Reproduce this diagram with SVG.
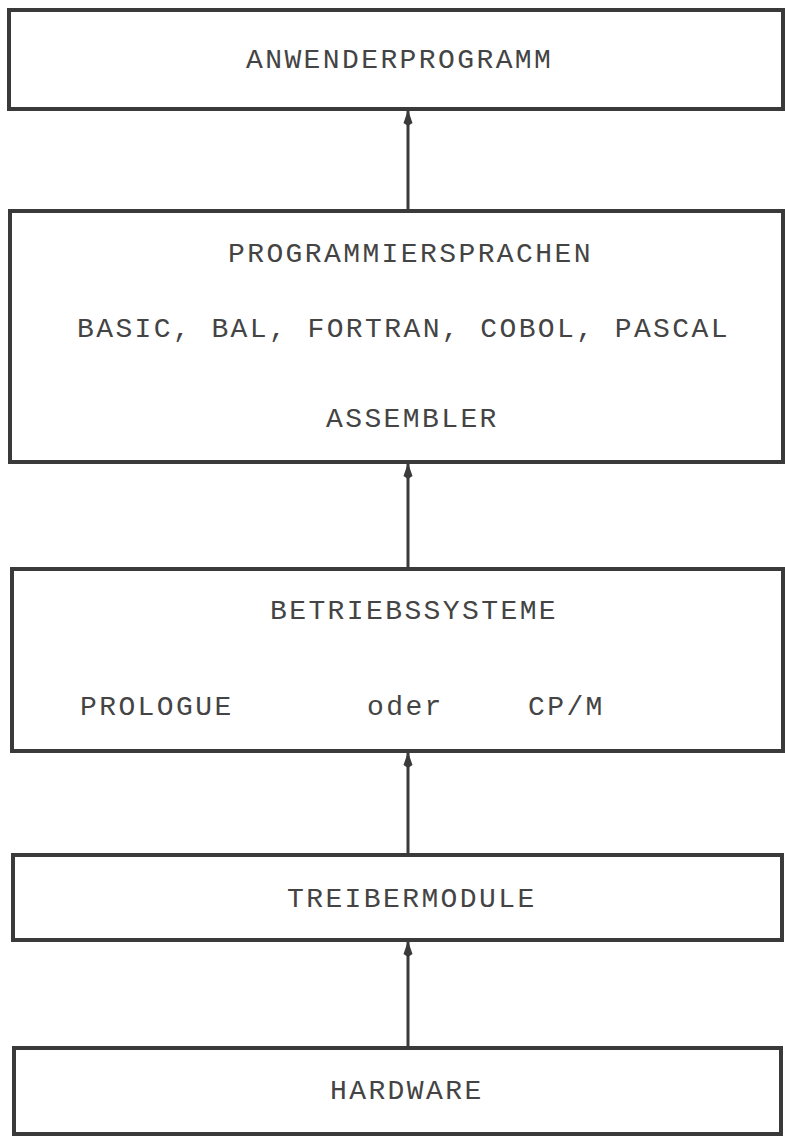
<svg xmlns="http://www.w3.org/2000/svg" width="785" height="1137" viewBox="0 0 785 1137">
<style>
.box{fill:#fff;stroke:#3a3a3a;stroke-width:4}
.t{font-family:"Liberation Mono",monospace;font-size:28px;letter-spacing:2.4px;fill:#444}
.c{stroke:#3a3a3a;stroke-width:3;fill:none}
</style>
<defs>
<marker id="ah" viewBox="0 0 16 10" refX="15" refY="5" markerWidth="16" markerHeight="10" markerUnits="userSpaceOnUse" orient="auto">
<path d="M16 5 L3 0.5 L0 5 L3 9.5 Z" fill="#3a3a3a"/>
</marker>
</defs>
<rect width="785" height="1137" fill="#fff"/>
<g id="anwenderprogramm">
<rect class="box" x="9" y="10" width="774" height="99"/>
<text class="t" x="246" y="68">ANWENDERPROGRAMM</text>
</g>
<g id="programmiersprachen">
<rect class="box" x="10" y="211" width="773" height="251"/>
<text class="t" x="228" y="262">PROGRAMMIERSPRACHEN</text>
<text class="t" x="77" y="337">BASIC, BAL, FORTRAN, COBOL, PASCAL</text>
<text class="t" x="326" y="427">ASSEMBLER</text>
</g>
<g id="betriebssysteme">
<rect class="box" x="12" y="569" width="771" height="182"/>
<text class="t" x="270" y="619">BETRIEBSSYSTEME</text>
<text class="t" x="80" y="715">PROLOGUE</text>
<text class="t" x="367" y="715">oder</text>
<text class="t" x="528" y="715">CP/M</text>
</g>
<g id="treibermodule">
<rect class="box" x="13" y="855" width="769" height="85"/>
<text class="t" x="287" y="907">TREIBERMODULE</text>
</g>
<g id="hardware">
<rect class="box" x="14" y="1048" width="767" height="86"/>
<text class="t" x="330" y="1099">HARDWARE</text>
</g>
<g id="connectors">
<line class="c" x1="408" y1="209" x2="408" y2="111" marker-end="url(#ah)"/>
<line class="c" x1="408" y1="567" x2="408" y2="464" marker-end="url(#ah)"/>
<line class="c" x1="408" y1="853" x2="408" y2="753" marker-end="url(#ah)"/>
<line class="c" x1="408" y1="1046" x2="408" y2="942" marker-end="url(#ah)"/>
</g>
</svg>
